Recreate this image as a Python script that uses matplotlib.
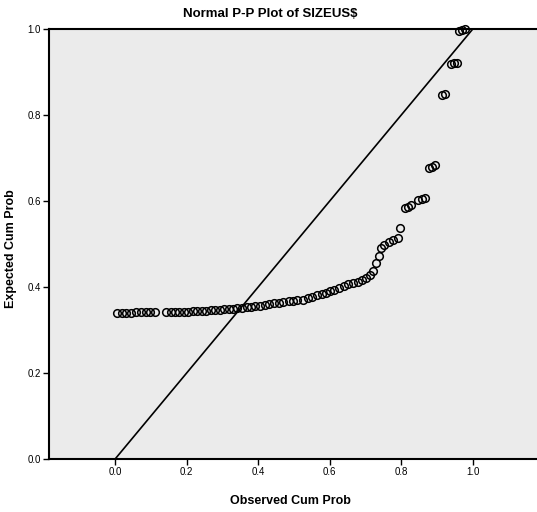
import matplotlib.pyplot as plt

plt.rcParams['font.family'] = ['Liberation Sans', 'DejaVu Sans']

# observed vs expected cumulative probabilities
observed = [0.005, 0.018, 0.030, 0.045, 0.058, 0.072, 0.085, 0.098, 0.112, 0.142,
            0.155, 0.168, 0.180, 0.192, 0.205, 0.218, 0.230, 0.243, 0.255, 0.268,
            0.280, 0.292, 0.305, 0.318, 0.330, 0.342, 0.355, 0.368, 0.380, 0.392,
            0.405, 0.418, 0.430, 0.445, 0.458, 0.470, 0.485, 0.498, 0.510, 0.525,
            0.540, 0.552, 0.565, 0.578, 0.590, 0.600, 0.612, 0.625, 0.640, 0.652,
            0.665, 0.678, 0.690, 0.702, 0.712, 0.722, 0.730, 0.738, 0.745, 0.752,
            0.765, 0.778, 0.790, 0.798, 0.812, 0.820, 0.828, 0.848, 0.858, 0.868,
            0.878, 0.886, 0.894, 0.914, 0.922, 0.940, 0.948, 0.956, 0.962, 0.970,
            0.978]
expected = [0.340, 0.340, 0.340, 0.340, 0.341, 0.341, 0.341, 0.341, 0.341, 0.342,
            0.342, 0.342, 0.343, 0.343, 0.343, 0.344, 0.344, 0.345, 0.345, 0.346,
            0.346, 0.347, 0.348, 0.349, 0.350, 0.351, 0.352, 0.353, 0.354, 0.355,
            0.357, 0.358, 0.360, 0.362, 0.363, 0.365, 0.367, 0.368, 0.369, 0.371,
            0.374, 0.378, 0.381, 0.384, 0.387, 0.390, 0.393, 0.397, 0.402, 0.406,
            0.409, 0.412, 0.416, 0.420, 0.428, 0.438, 0.455, 0.472, 0.490, 0.498,
            0.505, 0.510, 0.515, 0.537, 0.585, 0.587, 0.590, 0.603, 0.605, 0.607,
            0.678, 0.680, 0.684, 0.846, 0.850, 0.920, 0.921, 0.922, 0.995, 0.998,
            1.000]

ticks = [0.0, 0.2, 0.4, 0.6, 0.8, 1.0]
tick_labels = ['0.0', '0.2', '0.4', '0.6', '0.8', '1.0']

fig = plt.figure(figsize=(5.37, 5.12), dpi=100)
ax = fig.add_axes([0.0912, 0.1035, 0.9088, 0.8395])
ax.set_facecolor('#ebebeb')

# reference line
ax.plot([0, 1], [0, 1], color='black', linewidth=1.2)
ax.plot(observed, expected, linestyle='none', marker='o', markersize=5.5,
        markerfacecolor='none', markeredgecolor='black', markeredgewidth=1.1,
        clip_on=False)

ax.set_xlim(-0.185, 1.18)
ax.set_ylim(0, 1)
ax.set_xticks(ticks)
ax.set_xticklabels(tick_labels)
ax.set_yticks(ticks)
ax.set_yticklabels(tick_labels)
ax.tick_params(direction='out', length=4, width=1, labelsize=7, pad=2)

for side in ['left', 'bottom', 'top']:
    ax.spines[side].set_linewidth(1.5)
ax.spines['right'].set_visible(False)

ax.set_xlabel('Observed Cum Prob', fontsize=9, fontweight='bold')
ax.xaxis.set_label_coords(0.494, -0.084)
ax.set_ylabel('Expected Cum Prob', fontsize=9, fontweight='bold')
ax.yaxis.set_label_coords(-0.066, 0.49)
fig.text(270 / 537, 1 - 14 / 512, 'Normal P-P Plot of SIZEUS$', ha='center', va='center',
         fontsize=9.5, fontweight='bold')

fig.savefig('out.png', dpi=100)
